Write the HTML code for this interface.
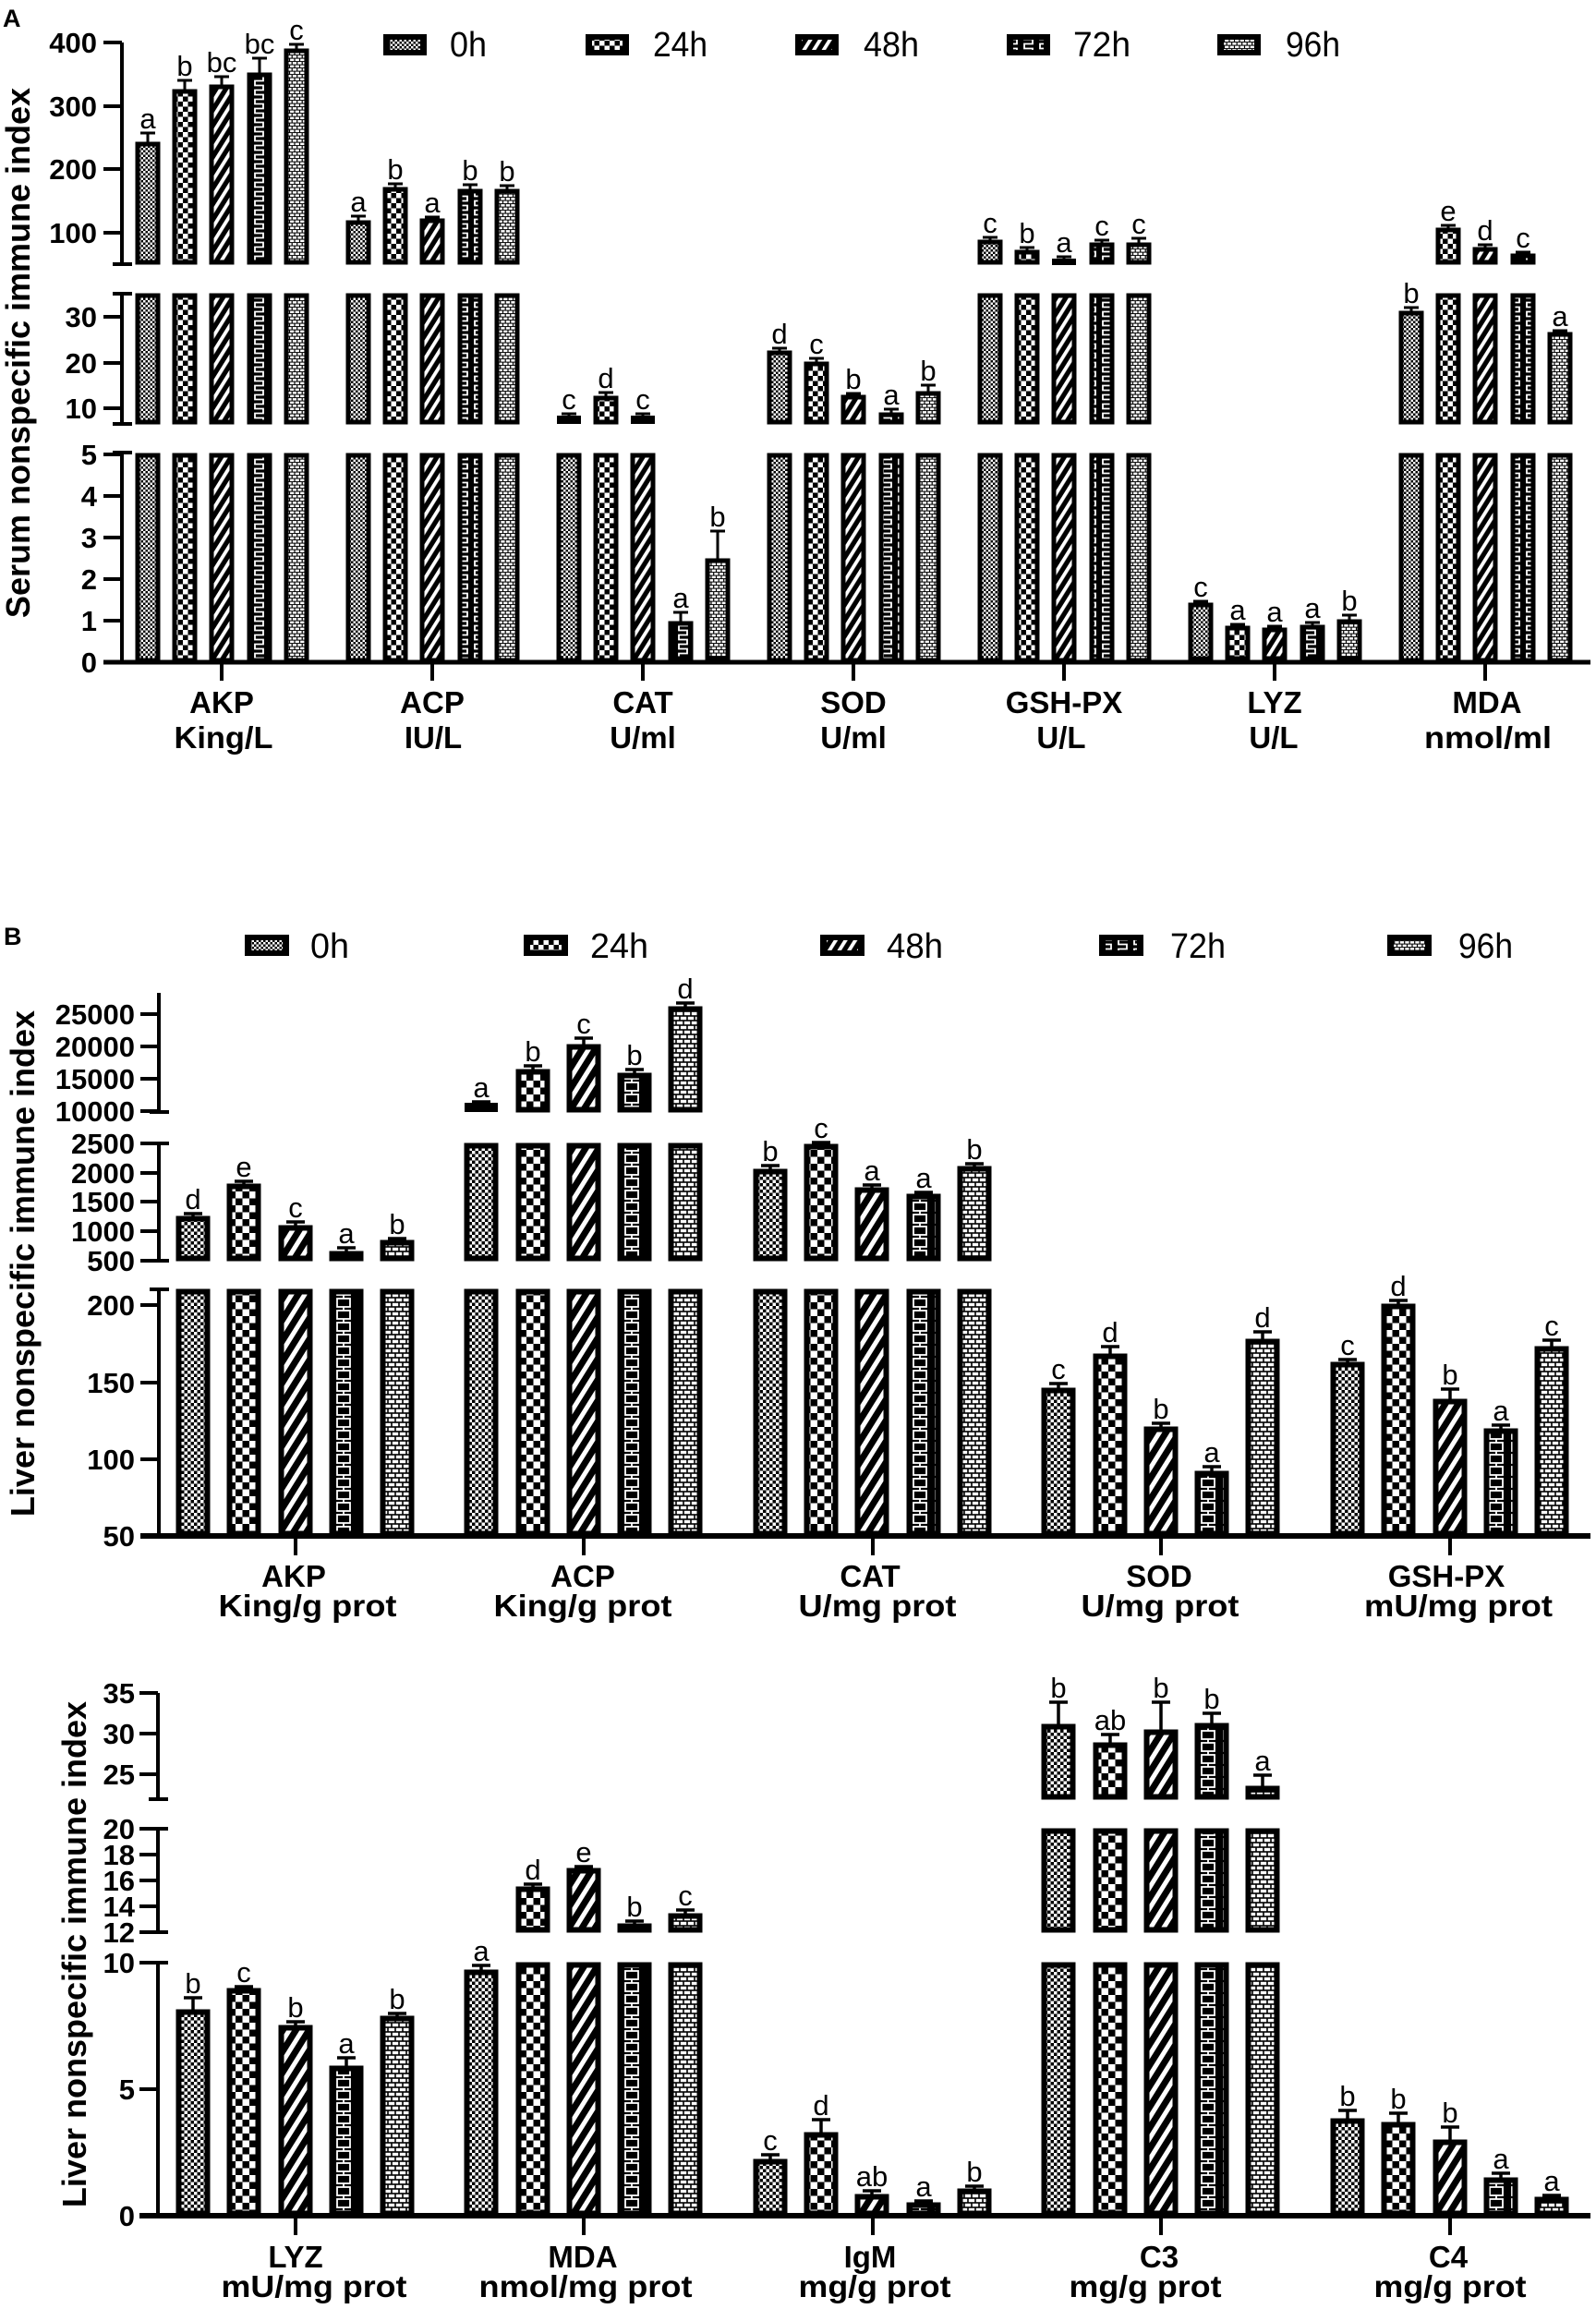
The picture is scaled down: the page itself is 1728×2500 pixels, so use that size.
<!DOCTYPE html>
<html><head><meta charset="utf-8"><style>
html,body{margin:0;padding:0;background:#fff;}
svg{display:block;}
text{font-family:"Liberation Sans",Arial,sans-serif;fill:#000;}
.tk{font-weight:bold;font-size:31px;text-anchor:end;}
.ct{font-weight:bold;font-size:33px;text-anchor:middle;}
.lt{font-size:31px;text-anchor:middle;}
.lg{font-size:38px;}
.yt{font-weight:bold;font-size:36px;text-anchor:middle;}
</style></head><body>
<svg width="1728" height="2500" viewBox="0 0 1728 2500" xmlns="http://www.w3.org/2000/svg">
<defs>
<pattern id="a0" width="5" height="5" patternUnits="userSpaceOnUse"><rect width="5" height="5"/><rect width="2.5" height="2.5" fill="#fff"/><rect x="2.5" y="2.5" width="2.5" height="2.5" fill="#fff"/></pattern>
<pattern id="a24" width="11" height="11" patternUnits="userSpaceOnUse"><rect width="11" height="11"/><rect width="5.5" height="5.5" fill="#fff"/><rect x="5.5" y="5.5" width="5.5" height="5.5" fill="#fff"/></pattern>
<pattern id="a48" width="20" height="9" patternUnits="userSpaceOnUse" patternTransform="rotate(-58)"><rect width="20" height="9"/><rect width="20" height="3.8" fill="#fff"/></pattern>
<pattern id="a72" width="17" height="10" patternUnits="userSpaceOnUse"><rect width="17" height="10"/><path d="M4,0V2.5H13V7.5H4V10" fill="none" stroke="#fff" stroke-width="1.8"/></pattern>
<pattern id="a96" width="11" height="7" patternUnits="userSpaceOnUse"><rect width="11" height="7"/><rect x="0.6" y="0.6" width="4.3" height="2.5" fill="#fff"/><rect x="6.1" y="0.6" width="4.3" height="2.5" fill="#fff"/><rect x="3.3" y="4.1" width="4.3" height="2.5" fill="#fff"/><rect x="-2.2" y="4.1" width="4.3" height="2.5" fill="#fff"/><rect x="8.8" y="4.1" width="4.3" height="2.5" fill="#fff"/></pattern>
<pattern id="b0" width="7" height="7" patternUnits="userSpaceOnUse"><rect width="7" height="7"/><rect width="3.5" height="3.5" fill="#fff"/><rect x="3.5" y="3.5" width="3.5" height="3.5" fill="#fff"/></pattern>
<pattern id="b24" width="15" height="15" patternUnits="userSpaceOnUse"><rect width="15" height="15"/><rect width="7.5" height="7.5" fill="#fff"/><rect x="7.5" y="7.5" width="7.5" height="7.5" fill="#fff"/></pattern>
<pattern id="b48" width="24" height="12" patternUnits="userSpaceOnUse" patternTransform="rotate(-58)"><rect width="24" height="12"/><rect width="24" height="5" fill="#fff"/></pattern>
<pattern id="b72" width="24" height="13" patternUnits="userSpaceOnUse"><rect width="24" height="13"/><rect x="5" y="2" width="14" height="9" fill="none" stroke="#fff" stroke-width="1.8"/><path d="M12,0V2M12,11V13" stroke="#fff" stroke-width="1.8"/></pattern>
<pattern id="b96" width="16" height="10" patternUnits="userSpaceOnUse"><rect width="16" height="10"/><rect x="0.8" y="0.8" width="6.4" height="3.4" fill="#fff"/><rect x="8.8" y="0.8" width="6.4" height="3.4" fill="#fff"/><rect x="4.8" y="5.8" width="6.4" height="3.4" fill="#fff"/><rect x="-3.2" y="5.8" width="6.4" height="3.4" fill="#fff"/><rect x="12.8" y="5.8" width="6.4" height="3.4" fill="#fff"/></pattern>
</defs>
<rect width="1728" height="2500" fill="#fff"/>

<!-- ================= PANEL A ================= -->
<text x="3" y="29" font-size="27" font-weight="bold">A</text>
<text class="yt" transform="translate(32,382) rotate(-90)">Serum nonspecific immune index</text>

<rect x="415" y="37" width="47" height="23"/><rect x="422" y="43" width="33" height="11" fill="url(#a0)"/>
<text class="lg" x="487" y="61" textLength="40" lengthAdjust="spacingAndGlyphs">0h</text>
<rect x="634" y="37" width="47" height="23"/><rect x="641" y="43" width="33" height="11" fill="url(#a24)"/>
<text class="lg" x="707" y="61" textLength="59" lengthAdjust="spacingAndGlyphs">24h</text>
<rect x="861" y="37" width="47" height="23"/><rect x="868" y="43" width="33" height="11" fill="url(#a48)"/>
<text class="lg" x="935" y="61" textLength="60" lengthAdjust="spacingAndGlyphs">48h</text>
<rect x="1090" y="37" width="47" height="23"/><rect x="1097" y="43" width="33" height="11" fill="url(#a72)"/>
<text class="lg" x="1162" y="61" textLength="62" lengthAdjust="spacingAndGlyphs">72h</text>
<rect x="1318" y="37" width="47" height="23"/><rect x="1325" y="43" width="33" height="11" fill="url(#a96)"/>
<text class="lg" x="1392" y="61" textLength="59" lengthAdjust="spacingAndGlyphs">96h</text>

<g stroke="#000" stroke-width="5">
<rect x="149" y="156" width="22" height="128" fill="url(#a0)"/>
<rect x="189" y="99" width="22" height="185" fill="url(#a24)"/>
<rect x="229" y="94" width="22" height="190" fill="url(#a48)"/>
<rect x="270" y="81" width="22" height="203" fill="url(#a72)"/>
<rect x="310" y="55" width="22" height="229" fill="url(#a96)"/>
<rect x="377" y="241" width="22" height="43" fill="url(#a0)"/>
<rect x="417" y="205" width="22" height="79" fill="url(#a24)"/>
<rect x="457" y="239" width="22" height="45" fill="url(#a48)"/>
<rect x="498" y="207" width="22" height="77" fill="url(#a72)"/>
<rect x="538" y="207" width="22" height="77" fill="url(#a96)"/>
<rect x="1061" y="262" width="22" height="22" fill="url(#a0)"/>
<rect x="1101" y="273" width="22" height="11" fill="url(#a24)"/>
<rect x="1182" y="265" width="22" height="19" fill="url(#a72)"/>
<rect x="1222" y="265" width="22" height="19" fill="url(#a96)"/>
<rect x="1557" y="249" width="22" height="35" fill="url(#a24)"/>
<rect x="1597" y="270" width="22" height="14" fill="url(#a48)"/>
<rect x="1638" y="277" width="22" height="7" fill="url(#a72)"/>
<rect x="149" y="320" width="22" height="137" fill="url(#a0)"/>
<rect x="189" y="320" width="22" height="137" fill="url(#a24)"/>
<rect x="229" y="320" width="22" height="137" fill="url(#a48)"/>
<rect x="270" y="320" width="22" height="137" fill="url(#a72)"/>
<rect x="310" y="320" width="22" height="137" fill="url(#a96)"/>
<rect x="377" y="320" width="22" height="137" fill="url(#a0)"/>
<rect x="417" y="320" width="22" height="137" fill="url(#a24)"/>
<rect x="457" y="320" width="22" height="137" fill="url(#a48)"/>
<rect x="498" y="320" width="22" height="137" fill="url(#a72)"/>
<rect x="538" y="320" width="22" height="137" fill="url(#a96)"/>
<rect x="1061" y="320" width="22" height="137" fill="url(#a0)"/>
<rect x="1101" y="320" width="22" height="137" fill="url(#a24)"/>
<rect x="1141" y="320" width="22" height="137" fill="url(#a48)"/>
<rect x="1182" y="320" width="22" height="137" fill="url(#a72)"/>
<rect x="1222" y="320" width="22" height="137" fill="url(#a96)"/>
<rect x="1557" y="320" width="22" height="137" fill="url(#a24)"/>
<rect x="1597" y="320" width="22" height="137" fill="url(#a48)"/>
<rect x="1638" y="320" width="22" height="137" fill="url(#a72)"/>
<rect x="645" y="431" width="22" height="26" fill="url(#a24)"/>
<rect x="833" y="382" width="22" height="75" fill="url(#a0)"/>
<rect x="873" y="394" width="22" height="63" fill="url(#a24)"/>
<rect x="913" y="430" width="22" height="27" fill="url(#a48)"/>
<rect x="954" y="449" width="22" height="8" fill="url(#a72)"/>
<rect x="994" y="426" width="22" height="31" fill="url(#a96)"/>
<rect x="1517" y="339" width="22" height="118" fill="url(#a0)"/>
<rect x="1678" y="362" width="22" height="95" fill="url(#a96)"/>
<rect x="149" y="493" width="22" height="222" fill="url(#a0)"/>
<rect x="189" y="493" width="22" height="222" fill="url(#a24)"/>
<rect x="229" y="493" width="22" height="222" fill="url(#a48)"/>
<rect x="270" y="493" width="22" height="222" fill="url(#a72)"/>
<rect x="310" y="493" width="22" height="222" fill="url(#a96)"/>
<rect x="377" y="493" width="22" height="222" fill="url(#a0)"/>
<rect x="417" y="493" width="22" height="222" fill="url(#a24)"/>
<rect x="457" y="493" width="22" height="222" fill="url(#a48)"/>
<rect x="498" y="493" width="22" height="222" fill="url(#a72)"/>
<rect x="538" y="493" width="22" height="222" fill="url(#a96)"/>
<rect x="605" y="493" width="22" height="222" fill="url(#a0)"/>
<rect x="645" y="493" width="22" height="222" fill="url(#a24)"/>
<rect x="685" y="493" width="22" height="222" fill="url(#a48)"/>
<rect x="833" y="493" width="22" height="222" fill="url(#a0)"/>
<rect x="873" y="493" width="22" height="222" fill="url(#a24)"/>
<rect x="913" y="493" width="22" height="222" fill="url(#a48)"/>
<rect x="954" y="493" width="22" height="222" fill="url(#a72)"/>
<rect x="994" y="493" width="22" height="222" fill="url(#a96)"/>
<rect x="1061" y="493" width="22" height="222" fill="url(#a0)"/>
<rect x="1101" y="493" width="22" height="222" fill="url(#a24)"/>
<rect x="1141" y="493" width="22" height="222" fill="url(#a48)"/>
<rect x="1182" y="493" width="22" height="222" fill="url(#a72)"/>
<rect x="1222" y="493" width="22" height="222" fill="url(#a96)"/>
<rect x="1517" y="493" width="22" height="222" fill="url(#a0)"/>
<rect x="1557" y="493" width="22" height="222" fill="url(#a24)"/>
<rect x="1597" y="493" width="22" height="222" fill="url(#a48)"/>
<rect x="1638" y="493" width="22" height="222" fill="url(#a72)"/>
<rect x="1678" y="493" width="22" height="222" fill="url(#a96)"/>
<rect x="726" y="675" width="22" height="38" fill="url(#a72)"/>
<rect x="766" y="607" width="22" height="106" fill="url(#a96)"/>
<rect x="1289" y="655" width="22" height="58" fill="url(#a0)"/>
<rect x="1329" y="680" width="22" height="33" fill="url(#a24)"/>
<rect x="1369" y="682" width="22" height="31" fill="url(#a48)"/>
<rect x="1410" y="679" width="22" height="34" fill="url(#a72)"/>
<rect x="1450" y="673" width="22" height="40" fill="url(#a96)"/>
</g>
<rect x="603" y="450" width="26" height="9"/>
<rect x="683" y="450" width="26" height="9"/>
<rect x="1139" y="280" width="26" height="7"/>

<path fill="none" stroke="#000" stroke-width="3" d="M160,154V144M152,144H168 M200,97V87M192,87H208 M240,92V83M232,83H248 M281,79V63M273,63H289 M321,53V48M313,48H329
M388,239V234M380,234H396 M428,203V199M420,199H436 M468,237V235M460,235H476 M509,205V200M501,200H517 M549,205V201M541,201H557
M616,452V448M608,448H624 M656,429V425M648,425H664 M696,452V448M688,448H704 M737,673V663M729,663H745 M777,605V575M769,575H785
M844,380V377M836,377H852 M884,392V388M876,388H892 M924,428V426M916,426H932 M965,447V443M957,443H973 M1005,424V417M997,417H1013
M1072,260V257M1064,257H1080 M1112,271V268M1104,268H1120 M1152,282V278M1144,278H1160 M1193,263V260M1185,260H1201 M1233,263V258M1225,258H1241
M1300,653V651M1292,651H1308 M1340,678V676M1332,676H1348 M1380,680V678M1372,678H1388 M1421,677V674M1413,674H1429 M1461,671V666M1453,666H1469
M1528,337V333M1520,333H1536 M1568,247V244M1560,244H1576 M1608,268V265M1600,265H1616 M1649,275V273M1641,273H1657 M1689,360V358M1681,358H1697"/>

<text class="lt" x="160" y="139">a</text><text class="lt" x="200" y="82">b</text><text class="lt" x="240" y="78">bc</text><text class="lt" x="281" y="58">bc</text><text class="lt" x="321" y="43">c</text>
<text class="lt" x="388" y="229">a</text><text class="lt" x="428" y="194">b</text><text class="lt" x="468" y="230">a</text><text class="lt" x="509" y="195">b</text><text class="lt" x="549" y="196">b</text>
<text class="lt" x="616" y="443">c</text><text class="lt" x="656" y="420">d</text><text class="lt" x="696" y="443">c</text><text class="lt" x="737" y="658">a</text><text class="lt" x="777" y="570">b</text>
<text class="lt" x="844" y="372">d</text><text class="lt" x="884" y="383">c</text><text class="lt" x="924" y="421">b</text><text class="lt" x="965" y="438">a</text><text class="lt" x="1005" y="412">b</text>
<text class="lt" x="1072" y="252">c</text><text class="lt" x="1112" y="263">b</text><text class="lt" x="1152" y="273">a</text><text class="lt" x="1193" y="255">c</text><text class="lt" x="1233" y="253">c</text>
<text class="lt" x="1300" y="646">c</text><text class="lt" x="1340" y="671">a</text><text class="lt" x="1380" y="673">a</text><text class="lt" x="1421" y="669">a</text><text class="lt" x="1461" y="661">b</text>
<text class="lt" x="1528" y="328">b</text><text class="lt" x="1568" y="239">e</text><text class="lt" x="1608" y="260">d</text><text class="lt" x="1649" y="268">c</text><text class="lt" x="1689" y="353">a</text>

<path fill="none" stroke="#000" stroke-width="4" d="M132,46V286 M132,318V459 M132,490V717
M112,46H132 M112,115H132 M112,183H132 M112,252H132 M112,343H132 M112,393H132 M112,442H132 M112,492H132 M112,537H132 M112,582H132 M112,627H132 M112,672H132
M122,286H143 M122,318H143 M122,459H143 M122,490H143
M240,717V737 M468,717V737 M696,717V737 M924,717V737 M1152,717V737 M1380,717V737 M1608,717V737"/>
<path stroke="#000" stroke-width="5" d="M112,717H1722"/>
<text class="tk" x="105" y="57">400</text><text class="tk" x="105" y="126">300</text><text class="tk" x="105" y="194">200</text><text class="tk" x="105" y="263">100</text>
<text class="tk" x="105" y="354">30</text><text class="tk" x="105" y="404">20</text><text class="tk" x="105" y="453">10</text>
<text class="tk" x="105" y="503">5</text><text class="tk" x="105" y="548">4</text><text class="tk" x="105" y="593">3</text><text class="tk" x="105" y="638">2</text><text class="tk" x="105" y="683">1</text><text class="tk" x="105" y="728">0</text>

<text class="ct" x="240" y="772">AKP</text><text class="ct" x="242" y="810" textLength="107" lengthAdjust="spacingAndGlyphs">King/L</text>
<text class="ct" x="468" y="772">ACP</text><text class="ct" x="469" y="810">IU/L</text>
<text class="ct" x="696" y="772">CAT</text><text class="ct" x="696" y="810">U/ml</text>
<text class="ct" x="924" y="772">SOD</text><text class="ct" x="924" y="810">U/ml</text>
<text class="ct" x="1152" y="772">GSH-PX</text><text class="ct" x="1149" y="810">U/L</text>
<text class="ct" x="1380" y="772">LYZ</text><text class="ct" x="1379" y="810">U/L</text>
<text class="ct" x="1610" y="772">MDA</text><text class="ct" x="1611" y="810" textLength="138" lengthAdjust="spacingAndGlyphs">nmol/ml</text>

<!-- ================= PANEL B ================= -->
<text x="4" y="1023" font-size="27" font-weight="bold">B</text>
<text class="yt" transform="translate(37,1368) rotate(-90)">Liver nonspecific immune index</text>
<text class="yt" transform="translate(93,2116) rotate(-90)">Liver nonspecific immune index</text>

<rect x="265" y="1012" width="48" height="23"/><rect x="272" y="1018" width="34" height="11" fill="url(#a0)"/>
<text class="lg" x="336" y="1037" textLength="42" lengthAdjust="spacingAndGlyphs">0h</text>
<rect x="567" y="1012" width="48" height="23"/><rect x="574" y="1018" width="34" height="11" fill="url(#a24)"/>
<text class="lg" x="639" y="1037" textLength="63" lengthAdjust="spacingAndGlyphs">24h</text>
<rect x="888" y="1012" width="48" height="23"/><rect x="895" y="1018" width="34" height="11" fill="url(#a48)"/>
<text class="lg" x="960" y="1037" textLength="61" lengthAdjust="spacingAndGlyphs">48h</text>
<rect x="1190" y="1012" width="48" height="23"/><rect x="1197" y="1018" width="34" height="11" fill="url(#a72)"/>
<text class="lg" x="1267" y="1037" textLength="60" lengthAdjust="spacingAndGlyphs">72h</text>
<rect x="1502" y="1012" width="48" height="23"/><rect x="1509" y="1018" width="34" height="11" fill="url(#a96)"/>
<text class="lg" x="1579" y="1037" textLength="59" lengthAdjust="spacingAndGlyphs">96h</text>

<g stroke="#000" stroke-width="6">
<rect x="561.5" y="1160.5" width="31" height="41" fill="url(#b24)"/>
<rect x="616.5" y="1133.5" width="31" height="68" fill="url(#b48)"/>
<rect x="671.5" y="1164.5" width="31" height="37" fill="url(#b72)"/>
<rect x="726.5" y="1092.5" width="31" height="109" fill="url(#b96)"/>
<rect x="193.5" y="1319.5" width="31" height="43" fill="url(#b0)"/>
<rect x="248.5" y="1284.5" width="31" height="78" fill="url(#b24)"/>
<rect x="304.5" y="1329.5" width="31" height="33" fill="url(#b48)"/>
<rect x="359.5" y="1357.5" width="31" height="5" fill="url(#b72)"/>
<rect x="414.5" y="1345.5" width="31" height="17" fill="url(#b96)"/>
<rect x="505.5" y="1240.5" width="31" height="122" fill="url(#b0)"/>
<rect x="561.5" y="1240.5" width="31" height="122" fill="url(#b24)"/>
<rect x="616.5" y="1240.5" width="31" height="122" fill="url(#b48)"/>
<rect x="671.5" y="1240.5" width="31" height="122" fill="url(#b72)"/>
<rect x="726.5" y="1240.5" width="31" height="122" fill="url(#b96)"/>
<rect x="818.5" y="1268.5" width="31" height="94" fill="url(#b0)"/>
<rect x="873.5" y="1241.5" width="31" height="121" fill="url(#b24)"/>
<rect x="928.5" y="1288.5" width="31" height="74" fill="url(#b48)"/>
<rect x="984.5" y="1295.5" width="31" height="67" fill="url(#b72)"/>
<rect x="1039.5" y="1265.5" width="31" height="97" fill="url(#b96)"/>
<rect x="193.5" y="1398.5" width="31" height="262" fill="url(#b0)"/>
<rect x="248.5" y="1398.5" width="31" height="262" fill="url(#b24)"/>
<rect x="304.5" y="1398.5" width="31" height="262" fill="url(#b48)"/>
<rect x="359.5" y="1398.5" width="31" height="262" fill="url(#b72)"/>
<rect x="414.5" y="1398.5" width="31" height="262" fill="url(#b96)"/>
<rect x="505.5" y="1398.5" width="31" height="262" fill="url(#b0)"/>
<rect x="561.5" y="1398.5" width="31" height="262" fill="url(#b24)"/>
<rect x="616.5" y="1398.5" width="31" height="262" fill="url(#b48)"/>
<rect x="671.5" y="1398.5" width="31" height="262" fill="url(#b72)"/>
<rect x="726.5" y="1398.5" width="31" height="262" fill="url(#b96)"/>
<rect x="818.5" y="1398.5" width="31" height="262" fill="url(#b0)"/>
<rect x="873.5" y="1398.5" width="31" height="262" fill="url(#b24)"/>
<rect x="928.5" y="1398.5" width="31" height="262" fill="url(#b48)"/>
<rect x="984.5" y="1398.5" width="31" height="262" fill="url(#b72)"/>
<rect x="1039.5" y="1398.5" width="31" height="262" fill="url(#b96)"/>
<rect x="1130.5" y="1505.5" width="31" height="155" fill="url(#b0)"/>
<rect x="1186.5" y="1468.5" width="31" height="192" fill="url(#b24)"/>
<rect x="1241.5" y="1547.5" width="31" height="113" fill="url(#b48)"/>
<rect x="1296.5" y="1595.5" width="31" height="65" fill="url(#b72)"/>
<rect x="1351.5" y="1452.5" width="31" height="208" fill="url(#b96)"/>
<rect x="1443.5" y="1477.5" width="31" height="183" fill="url(#b0)"/>
<rect x="1498.5" y="1414.5" width="31" height="246" fill="url(#b24)"/>
<rect x="1554.5" y="1517.5" width="31" height="143" fill="url(#b48)"/>
<rect x="1609.5" y="1549.5" width="31" height="111" fill="url(#b72)"/>
<rect x="1664.5" y="1460.5" width="31" height="200" fill="url(#b96)"/>

<rect x="1130.5" y="1869.5" width="31" height="76" fill="url(#b0)"/>
<rect x="1186.5" y="1889.5" width="31" height="56" fill="url(#b24)"/>
<rect x="1241.5" y="1875.5" width="31" height="70" fill="url(#b48)"/>
<rect x="1296.5" y="1868.5" width="31" height="77" fill="url(#b72)"/>
<rect x="1351.5" y="1936.5" width="31" height="9" fill="url(#b96)"/>
<rect x="1130.5" y="1982.5" width="31" height="107" fill="url(#b0)"/>
<rect x="1186.5" y="1982.5" width="31" height="107" fill="url(#b24)"/>
<rect x="1241.5" y="1982.5" width="31" height="107" fill="url(#b48)"/>
<rect x="1296.5" y="1982.5" width="31" height="107" fill="url(#b72)"/>
<rect x="1351.5" y="1982.5" width="31" height="107" fill="url(#b96)"/>
<rect x="561.5" y="2045.5" width="31" height="44" fill="url(#b24)"/>
<rect x="616.5" y="2025.5" width="31" height="64" fill="url(#b48)"/>
<rect x="671.5" y="2085.5" width="31" height="4" fill="url(#b72)"/>
<rect x="726.5" y="2074.5" width="31" height="15" fill="url(#b96)"/>
<rect x="193.5" y="2178.5" width="31" height="218" fill="url(#b0)"/>
<rect x="248.5" y="2155.5" width="31" height="241" fill="url(#b24)"/>
<rect x="304.5" y="2195.5" width="31" height="201" fill="url(#b48)"/>
<rect x="359.5" y="2239.5" width="31" height="157" fill="url(#b72)"/>
<rect x="414.5" y="2185.5" width="31" height="211" fill="url(#b96)"/>
<rect x="505.5" y="2135.5" width="31" height="261" fill="url(#b0)"/>
<rect x="561.5" y="2127.5" width="31" height="269" fill="url(#b24)"/>
<rect x="616.5" y="2127.5" width="31" height="269" fill="url(#b48)"/>
<rect x="671.5" y="2127.5" width="31" height="269" fill="url(#b72)"/>
<rect x="726.5" y="2127.5" width="31" height="269" fill="url(#b96)"/>
<rect x="818.5" y="2340.5" width="31" height="56" fill="url(#b0)"/>
<rect x="873.5" y="2311.5" width="31" height="85" fill="url(#b24)"/>
<rect x="928.5" y="2378.5" width="31" height="18" fill="url(#b48)"/>
<rect x="984.5" y="2387.5" width="31" height="9" fill="url(#b72)"/>
<rect x="1039.5" y="2372.5" width="31" height="24" fill="url(#b96)"/>
<rect x="1130.5" y="2127.5" width="31" height="269" fill="url(#b0)"/>
<rect x="1186.5" y="2127.5" width="31" height="269" fill="url(#b24)"/>
<rect x="1241.5" y="2127.5" width="31" height="269" fill="url(#b48)"/>
<rect x="1296.5" y="2127.5" width="31" height="269" fill="url(#b72)"/>
<rect x="1351.5" y="2127.5" width="31" height="269" fill="url(#b96)"/>
<rect x="1443.5" y="2296.5" width="31" height="100" fill="url(#b0)"/>
<rect x="1498.5" y="2300.5" width="31" height="96" fill="url(#b24)"/>
<rect x="1554.5" y="2319.5" width="31" height="77" fill="url(#b48)"/>
<rect x="1609.5" y="2360.5" width="31" height="36" fill="url(#b72)"/>
<rect x="1664.5" y="2381.5" width="31" height="15" fill="url(#b96)"/>
</g>
<rect x="503" y="1194" width="36" height="10"/>

<path fill="none" stroke="#000" stroke-width="3.5" d="M209,1317V1314M199,1314H219 M264,1282V1279M254,1279H274 M320,1327V1323M310,1323H330 M375,1355V1351M365,1351H385 M430,1343V1341M420,1341H440
M521,1197V1193M511,1193H531 M577,1158V1154M567,1154H587 M632,1131V1124M622,1124H642 M687,1162V1158M677,1158H697 M742,1090V1086M732,1086H752
M834,1266V1262M824,1262H844 M889,1239V1237M879,1237H899 M944,1286V1283M934,1283H954 M1000,1293V1291M990,1291H1010 M1055,1263V1260M1045,1260H1065
M1146,1503V1498M1136,1498H1156 M1202,1466V1458M1192,1458H1212 M1257,1545V1541M1247,1541H1267 M1312,1593V1588M1302,1588H1322 M1367,1450V1442M1357,1442H1377
M1459,1475V1472M1449,1472H1469 M1514,1412V1408M1504,1408H1524 M1570,1515V1504M1560,1504H1580 M1625,1547V1543M1615,1543H1635 M1680,1458V1451M1670,1451H1690
M209,2176V2163M199,2163H219 M264,2153V2151M254,2151H274 M320,2193V2189M310,2189H330 M375,2237V2228M365,2228H385 M430,2183V2180M420,2180H440
M521,2133V2128M511,2128H531 M577,2043V2040M567,2040H587 M632,2023V2021M622,2021H642 M687,2083V2080M677,2080H697 M742,2072V2068M732,2068H752
M834,2338V2333M824,2333H844 M889,2309V2295M879,2295H899 M944,2376V2372M934,2372H954 M1000,2385V2383M990,2383H1010 M1055,2370V2367M1045,2367H1065
M1146,1867V1843M1136,1843H1156 M1202,1887V1878M1192,1878H1212 M1257,1873V1843M1247,1843H1267 M1312,1866V1855M1302,1855H1322 M1367,1934V1922M1357,1922H1377
M1459,2294V2285M1449,2285H1469 M1514,2298V2288M1504,2288H1524 M1570,2317V2303M1560,2303H1580 M1625,2358V2353M1615,2353H1635 M1680,2379V2377M1670,2377H1690"/>

<text class="lt" x="209" y="1309">d</text><text class="lt" x="264" y="1274">e</text><text class="lt" x="320" y="1318">c</text><text class="lt" x="375" y="1346">a</text><text class="lt" x="430" y="1336">b</text>
<text class="lt" x="521" y="1188">a</text><text class="lt" x="577" y="1149">b</text><text class="lt" x="632" y="1119">c</text><text class="lt" x="687" y="1153">b</text><text class="lt" x="742" y="1081">d</text>
<text class="lt" x="834" y="1257">b</text><text class="lt" x="889" y="1232">c</text><text class="lt" x="944" y="1278">a</text><text class="lt" x="1000" y="1286">a</text><text class="lt" x="1055" y="1255">b</text>
<text class="lt" x="1146" y="1493">c</text><text class="lt" x="1202" y="1453">d</text><text class="lt" x="1257" y="1536">b</text><text class="lt" x="1312" y="1583">a</text><text class="lt" x="1367" y="1437">d</text>
<text class="lt" x="1459" y="1467">c</text><text class="lt" x="1514" y="1403">d</text><text class="lt" x="1570" y="1499">b</text><text class="lt" x="1625" y="1538">a</text><text class="lt" x="1680" y="1446">c</text>

<text class="lt" x="209" y="2158">b</text><text class="lt" x="264" y="2146">c</text><text class="lt" x="320" y="2184">b</text><text class="lt" x="375" y="2223">a</text><text class="lt" x="430" y="2175">b</text>
<text class="lt" x="521" y="2123">a</text><text class="lt" x="577" y="2035">d</text><text class="lt" x="632" y="2016">e</text><text class="lt" x="687" y="2075">b</text><text class="lt" x="742" y="2063">c</text>
<text class="lt" x="834" y="2328">c</text><text class="lt" x="889" y="2290">d</text><text class="lt" x="944" y="2367">ab</text><text class="lt" x="1000" y="2378">a</text><text class="lt" x="1055" y="2362">b</text>
<text class="lt" x="1146" y="1838">b</text><text class="lt" x="1202" y="1873">ab</text><text class="lt" x="1257" y="1838">b</text><text class="lt" x="1312" y="1850">b</text><text class="lt" x="1367" y="1917">a</text>
<text class="lt" x="1459" y="2280">b</text><text class="lt" x="1514" y="2283">b</text><text class="lt" x="1570" y="2298">b</text><text class="lt" x="1625" y="2348">a</text><text class="lt" x="1680" y="2372">a</text>

<path fill="none" stroke="#000" stroke-width="4" d="M172,1075V1204 M172,1238V1365 M172,1396V1663
M152,1098H172 M152,1133H172 M152,1168H172 M152,1203H172 M152,1238H172 M152,1270H172 M152,1301H172 M152,1333H172 M152,1365H172 M152,1413H172 M152,1497H172 M152,1580H172
M162,1204H183 M162,1238H183 M162,1365H183 M162,1396H183
M320,1663V1684 M632,1663V1684 M945,1663V1684 M1257,1663V1684 M1570,1663V1684"/>
<path stroke="#000" stroke-width="6" d="M152,1663H1722"/>
<text class="tk" x="146" y="1109">25000</text><text class="tk" x="146" y="1144">20000</text><text class="tk" x="146" y="1179">15000</text><text class="tk" x="146" y="1214">10000</text>
<text class="tk" x="146" y="1249">2500</text><text class="tk" x="146" y="1281">2000</text><text class="tk" x="146" y="1312">1500</text><text class="tk" x="146" y="1344">1000</text><text class="tk" x="146" y="1376">500</text>
<text class="tk" x="146" y="1424">200</text><text class="tk" x="146" y="1508">150</text><text class="tk" x="146" y="1591">100</text><text class="tk" x="146" y="1674">50</text>

<text class="ct" x="318" y="1718">AKP</text><text class="ct" x="333" y="1750" textLength="193" lengthAdjust="spacingAndGlyphs">King/g prot</text>
<text class="ct" x="631" y="1718">ACP</text><text class="ct" x="631" y="1750" textLength="193" lengthAdjust="spacingAndGlyphs">King/g prot</text>
<text class="ct" x="942" y="1718">CAT</text><text class="ct" x="950" y="1750" textLength="171" lengthAdjust="spacingAndGlyphs">U/mg prot</text>
<text class="ct" x="1255" y="1718">SOD</text><text class="ct" x="1256" y="1750" textLength="171" lengthAdjust="spacingAndGlyphs">U/mg prot</text>
<text class="ct" x="1566" y="1718">GSH-PX</text><text class="ct" x="1579" y="1750" textLength="204" lengthAdjust="spacingAndGlyphs">mU/mg prot</text>

<path fill="none" stroke="#000" stroke-width="4" d="M171,1833V1948 M171,1980V2092 M171,2125V2399
M151,1833H171 M151,1877H171 M151,1921H171 M151,1980H171 M151,2008H171 M151,2036H171 M151,2064H171 M151,2092H171 M151,2125H171 M151,2262H171
M161,1948H182 M161,1980H182 M161,2092H182 M161,2125H182
M320,2399V2420 M632,2399V2420 M945,2399V2420 M1257,2399V2420 M1570,2399V2420"/>
<path stroke="#000" stroke-width="6" d="M151,2399H1722"/>
<text class="tk" x="146" y="1844">35</text><text class="tk" x="146" y="1888">30</text><text class="tk" x="146" y="1932">25</text>
<text class="tk" x="146" y="1991">20</text><text class="tk" x="146" y="2019">18</text><text class="tk" x="146" y="2047">16</text><text class="tk" x="146" y="2075">14</text><text class="tk" x="146" y="2103">12</text>
<text class="tk" x="146" y="2136">10</text><text class="tk" x="146" y="2273">5</text><text class="tk" x="146" y="2410">0</text>

<text class="ct" x="320" y="2455">LYZ</text><text class="ct" x="340" y="2487" textLength="201" lengthAdjust="spacingAndGlyphs">mU/mg prot</text>
<text class="ct" x="631" y="2455">MDA</text><text class="ct" x="634" y="2487" textLength="231" lengthAdjust="spacingAndGlyphs">nmol/mg prot</text>
<text class="ct" x="942" y="2455">IgM</text><text class="ct" x="947" y="2487" textLength="165" lengthAdjust="spacingAndGlyphs">mg/g prot</text>
<text class="ct" x="1255" y="2455">C3</text><text class="ct" x="1240" y="2487" textLength="165" lengthAdjust="spacingAndGlyphs">mg/g prot</text>
<text class="ct" x="1568" y="2455">C4</text><text class="ct" x="1570" y="2487" textLength="165" lengthAdjust="spacingAndGlyphs">mg/g prot</text>
</svg>
</body></html>
